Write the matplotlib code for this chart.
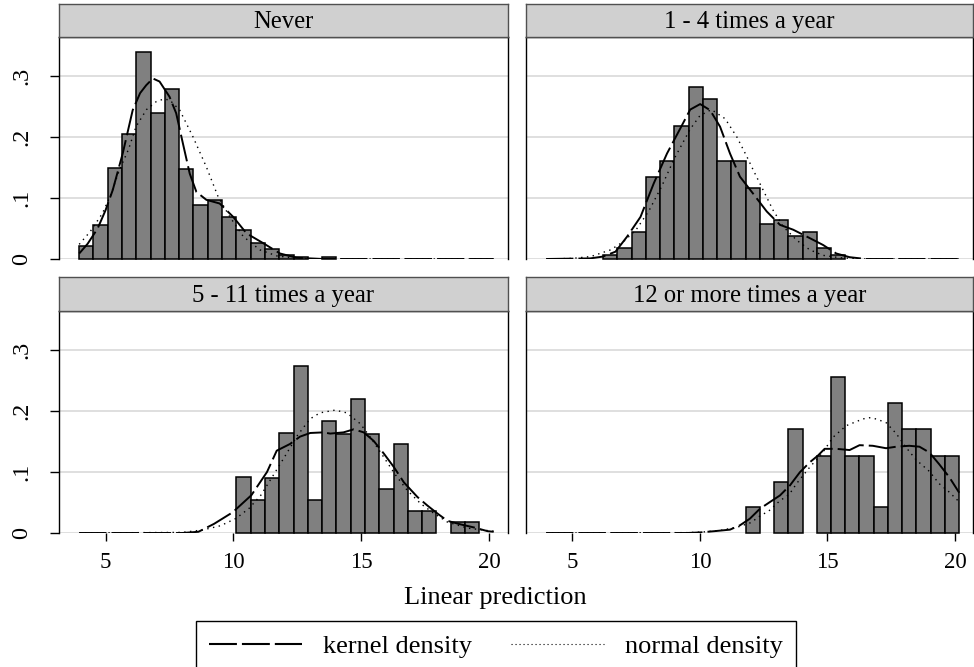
import numpy as np
import matplotlib
matplotlib.use('Agg')
import matplotlib.pyplot as plt
from matplotlib.lines import Line2D

plt.rcParams['font.family'] = ['Liberation Serif', 'DejaVu Serif']

panel_titles = ['Never', '1 - 4 times a year', '5 - 11 times a year', '12 or more times a year']

# histogram bins shared by all panels
bin_start = 3.967
bin_width = 0.5587

never_heights = [0.022, 0.055, 0.150, 0.205, 0.339, 0.239, 0.279, 0.148, 0.089, 0.096,
                 0.069, 0.048, 0.026, 0.017, 0.006, 0.003, 0.0, 0.003, 0.0, 0.0,
                 0.0, 0.0, 0.0, 0.0, 0.0, 0.0, 0.0, 0.0, 0.0]
one_four_heights = [0.0, 0.0, 0.0, 0.0, 0.006, 0.0186, 0.044, 0.134, 0.161, 0.218,
                    0.2825, 0.263, 0.161, 0.161, 0.116, 0.058, 0.064, 0.038, 0.044, 0.0186,
                    0.0066, 0.0, 0.0, 0.0, 0.0, 0.0, 0.0, 0.0, 0.0]
five_eleven_heights = [0.0, 0.0, 0.0, 0.0, 0.0, 0.0, 0.0, 0.0, 0.0, 0.0,
                       0.0, 0.0915, 0.0545, 0.0905, 0.164, 0.274, 0.0545, 0.183, 0.163, 0.2195,
                       0.163, 0.0725, 0.146, 0.0366, 0.0366, 0.0, 0.0175, 0.0175, 0.0]
twelve_plus_heights = [0.0, 0.0, 0.0, 0.0, 0.0, 0.0, 0.0, 0.0, 0.0, 0.0,
                       0.0, 0.0, 0.0, 0.0, 0.043, 0.0, 0.0844, 0.170, 0.0, 0.127,
                       0.256, 0.127, 0.127, 0.042, 0.2135, 0.170, 0.170, 0.127, 0.127]

# kernel density curves
never_kx = [3.97, 4.3, 4.69, 5.0, 5.28, 5.67, 6.06, 6.35, 6.59, 6.85, 7.11, 7.5, 7.76, 8.02, 8.29,
            8.55, 8.94, 9.46, 9.99, 10.51, 11.16, 11.82, 12.47, 13.5, 20.17]
never_ky = [0.009, 0.025, 0.050, 0.080, 0.113, 0.173, 0.244, 0.272, 0.285, 0.296, 0.291, 0.266, 0.239,
            0.190, 0.140, 0.110, 0.097, 0.091, 0.069, 0.042, 0.026, 0.009, 0.002, 0.0, 0.0]
one_four_kx = [3.97, 5.7, 6.2, 6.69, 7.15, 7.67, 8.19, 8.71, 9.23, 9.62, 10.01, 10.40, 10.79, 11.18,
               11.57, 12.09, 12.62, 13.14, 13.66, 14.18, 14.83, 15.35, 15.87, 16.5, 20.17]
one_four_ky = [0.0, 0.001, 0.004, 0.012, 0.037, 0.069, 0.124, 0.173, 0.214, 0.245, 0.254, 0.244, 0.217,
               0.173, 0.135, 0.107, 0.078, 0.056, 0.048, 0.037, 0.023, 0.009, 0.003, 0.0, 0.0]
five_eleven_kx = [3.97, 8.0, 8.63, 9.24, 9.97, 10.70, 11.31, 11.69, 12.21, 12.60, 13.0, 13.52, 13.78,
                  14.30, 14.70, 15.09, 15.48, 15.88, 16.27, 16.66, 17.19, 17.58, 17.97, 18.36, 18.89,
                  19.41, 19.93, 20.17]
five_eleven_ky = [0.0, 0.0, 0.002, 0.015, 0.034, 0.062, 0.100, 0.135, 0.146, 0.158, 0.164, 0.165, 0.163,
                  0.165, 0.170, 0.165, 0.151, 0.130, 0.108, 0.083, 0.059, 0.045, 0.032, 0.020, 0.014,
                  0.009, 0.003, 0.002]
twelve_plus_kx = [3.97, 9.5, 10.03, 10.57, 11.18, 11.57, 11.96, 12.36, 12.74, 13.14, 13.53, 13.92, 14.31,
                  14.63, 14.89, 15.35, 15.87, 16.26, 16.78, 17.30, 17.70, 18.21, 18.61, 19.0, 19.38,
                  19.78, 20.17]
twelve_plus_ky = [0.0, 0.0, 0.001, 0.003, 0.0055, 0.0126, 0.0235, 0.040, 0.0506, 0.0616, 0.078, 0.0996,
                  0.116, 0.127, 0.138, 0.138, 0.136, 0.144, 0.143, 0.139, 0.1415, 0.143, 0.1415, 0.132,
                  0.113, 0.0915, 0.066]

# normal density curves
never_nx = [3.97, 4.4, 4.88, 5.2, 5.54, 5.9, 6.19, 6.6, 6.98, 7.25, 7.5, 7.9, 8.42, 8.94, 9.40, 9.86,
            10.38, 11.03, 11.7, 12.5, 13.5, 20.17]
never_ny = [0.024, 0.045, 0.075, 0.105, 0.146, 0.180, 0.217, 0.245, 0.258, 0.262, 0.261, 0.244, 0.200,
            0.151, 0.102, 0.069, 0.037, 0.015, 0.005, 0.001, 0.0, 0.0]
one_four_nx = [3.97, 5.0, 5.72, 6.5, 7.02, 7.5, 8.0, 8.5, 9.0, 9.62, 10.0, 10.45, 10.99, 11.45, 11.84,
               12.09, 12.48, 12.87, 13.27, 13.79, 14.31, 14.83, 15.5, 16.5, 20.17]
one_four_ny = [0.0, 0.001, 0.004, 0.015, 0.029, 0.048, 0.079, 0.119, 0.165, 0.213, 0.235, 0.245, 0.230,
               0.200, 0.168, 0.146, 0.113, 0.080, 0.053, 0.031, 0.015, 0.006, 0.002, 0.0, 0.0]
five_eleven_nx = [3.97, 8.0, 8.8, 9.5, 10.1, 10.6, 11.07, 11.56, 12.0, 12.5, 12.99, 13.38, 13.97, 14.43,
                  14.96, 15.35, 15.88, 16.3, 16.79, 17.32, 17.84, 18.36, 19.15, 19.93, 20.17]
five_eleven_ny = [0.0, 0.001, 0.005, 0.012, 0.024, 0.040, 0.062, 0.095, 0.125, 0.160, 0.187, 0.197,
                  0.2015, 0.197, 0.179, 0.157, 0.124, 0.097, 0.070, 0.048, 0.032, 0.018, 0.008, 0.004,
                  0.003]
twelve_plus_nx = [3.97, 9.5, 10.1, 10.8, 11.5, 12.0, 12.36, 12.7, 13.14, 13.5, 13.79, 14.31, 14.8, 15.22,
                  15.74, 16.39, 16.65, 16.91, 17.30, 17.70, 18.09, 18.48, 19.0, 19.38, 19.78, 20.17]
twelve_plus_ny = [0.0, 0.0006, 0.0016, 0.0042, 0.010, 0.017, 0.028, 0.036, 0.053, 0.063, 0.081, 0.108,
                  0.131, 0.157, 0.176, 0.187, 0.189, 0.187, 0.181, 0.163, 0.140, 0.120, 0.101, 0.081,
                  0.067, 0.051]

heights = [never_heights, one_four_heights, five_eleven_heights, twelve_plus_heights]
kernels = [(never_kx, never_ky), (one_four_kx, one_four_ky),
           (five_eleven_kx, five_eleven_ky), (twelve_plus_kx, twelve_plus_ky)]
normals = [(never_nx, never_ny), (one_four_nx, one_four_ny),
           (five_eleven_nx, five_eleven_ny), (twelve_plus_nx, twelve_plus_ny)]

yticks = [0, 0.1, 0.2, 0.3]
ytick_labels = ['0', '.1', '.2', '.3']
xticks = [5, 10, 15, 20]

W, H = 974, 667
fig = plt.figure(figsize=(W / 100, H / 100), dpi=100)


def px_axes(x0, y0, x1, y1):
    return fig.add_axes([x0 / W, 1 - y1 / H, (x1 - x0) / W, (y1 - y0) / H])


# (left, top, right, bottom) in pixels for plot area and strip
plot_boxes = [(59, 37, 507.5, 259), (526, 37, 973, 259), (59, 311, 507.5, 533), (526, 311, 973, 533)]
strip_boxes = [(59, 4, 507.5, 37), (526, 4, 973, 37), (59, 277, 507.5, 311), (526, 277, 973, 311)]

kernel_dash = (14, 2.6)
normal_dash = (1.0, 3.2)

edges = bin_start + bin_width * np.arange(len(never_heights))

for i in range(4):
    ax = px_axes(*plot_boxes[i])
    h = np.array(heights[i])
    keep = h > 0
    ax.bar(edges[keep], h[keep], width=bin_width, align='edge', color='#808080',
           edgecolor='black', linewidth=1.1, zorder=2, clip_on=False)
    ax.plot(kernels[i][0], kernels[i][1], color='black', lw=1.4, dashes=kernel_dash, zorder=3)
    ax.plot(normals[i][0], normals[i][1], color='black', lw=1.0, dashes=normal_dash, zorder=3)

    ax.set_xlim(3.18, 20.71)
    ax.set_ylim(0, 0.364)
    ax.set_yticks(yticks)
    ax.grid(axis='y', color='#dcdcdc', lw=1.3, zorder=0)
    ax.set_axisbelow(True)
    ax.spines['bottom'].set_visible(False)
    for s in ['left', 'right', 'top']:
        ax.spines[s].set_linewidth(1.0)

    if i % 2 == 0:
        ax.set_yticklabels(ytick_labels, rotation=90, va='center', fontsize=17.5)
        ax.tick_params(axis='y', length=6.5, width=1, pad=13)
    else:
        ax.tick_params(axis='y', left=False, labelleft=False)

    if i >= 2:
        ax.set_xticks(xticks)
        ax.set_xticklabels([str(t) for t in xticks], fontsize=16.5)
        ax.tick_params(axis='x', length=5.5, width=1, pad=8)
    else:
        ax.set_xticks([])

    sax = px_axes(*strip_boxes[i])
    sax.set_facecolor('#d0d0d0')
    sax.set_xticks([])
    sax.set_yticks([])
    for s in sax.spines.values():
        s.set_color('#505050')
        s.set_linewidth(1.0)
    sax.text(0.5, 0.45, panel_titles[i], transform=sax.transAxes, ha='center', va='center', fontsize=17.7)

fig.text(495 / W, 1 - 598 / H, 'Linear prediction', ha='center', va='center', fontsize=19)

handles = [Line2D([], [], color='black', lw=1.5, dashes=(13.4, 2.4)),
           Line2D([], [], color='black', lw=0.8, dashes=(1.0, 2.6))]
leg = fig.legend(handles, ['kernel density', 'normal density'], loc='center',
                 bbox_to_anchor=(496 / W, 1 - 646 / H), ncol=2, frameon=True, fancybox=False,
                 edgecolor='black', fontsize=19, handlelength=3.5, handletextpad=0.8,
                 columnspacing=1.5, borderpad=0.5, framealpha=1)
leg.get_frame().set_linewidth(1.0)

fig.savefig('out.png', dpi=100)
